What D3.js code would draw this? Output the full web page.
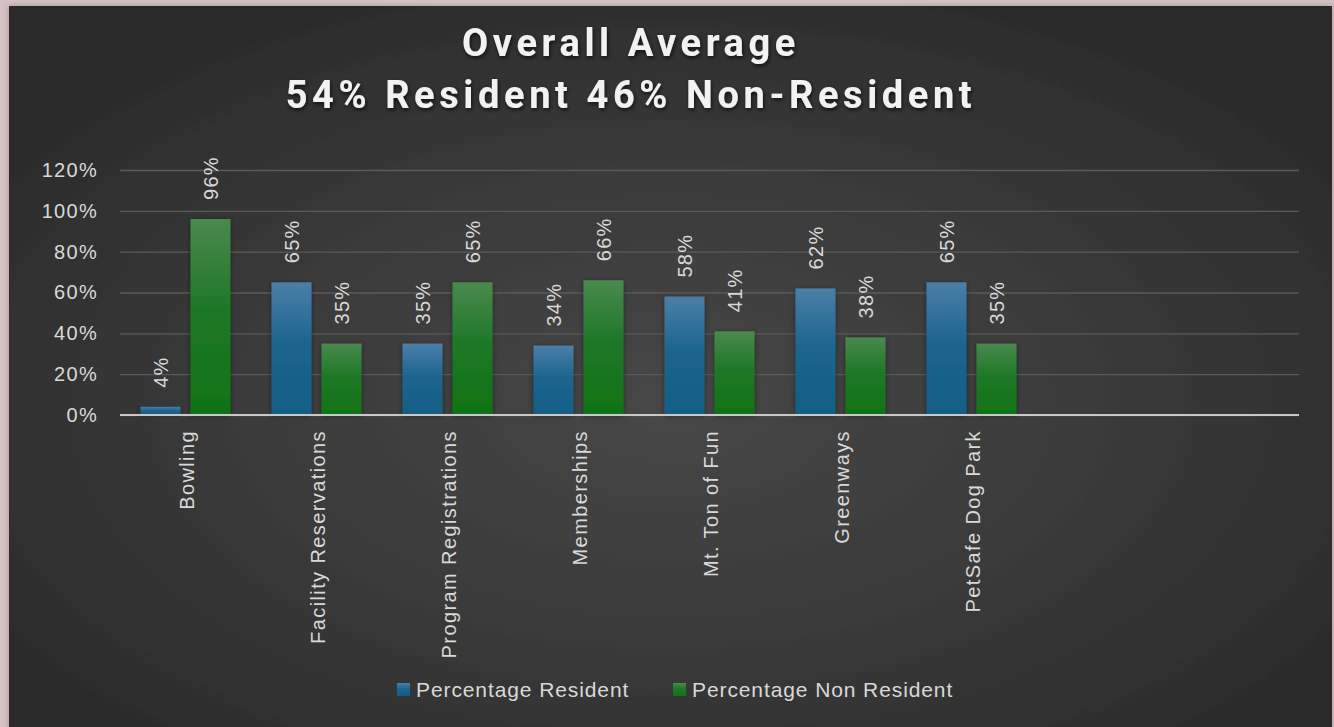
<!DOCTYPE html>
<html><head><meta charset="utf-8">
<script src="https://cdn.jsdelivr.net/npm/d3@7"></script>
<style>
html,body{margin:0;padding:0;background:#d6c3c6;}
svg{display:block;}
</style></head>
<body>
<svg id="chart" width="1334" height="727"></svg>
<script>
const categories = ["Bowling","Facility Reservations","Program Registrations","Memberships","Mt. Ton of Fun","Greenways","PetSafe Dog Park"];
const emptySlots = ["_empty1","_empty2"];
const seriesNames = ["Percentage Resident","Percentage Non Resident"];
const residentValues = [4,65,35,34,58,62,65];
const nonResidentValues = [96,35,65,66,41,38,35];
const yTicks = [0,20,40,60,80,100,120];
const titleLines = ["Overall Average","54% Resident 46% Non-Resident"];

const W = 1334, H = 727;
const FONT = "'Liberation Sans', Arial, sans-serif";
const svg = d3.select("#chart");
const defs = svg.append("defs");

// background gradient
const bg = defs.append("radialGradient").attr("id","bgGrad")
  .attr("cx","50%").attr("cy","55%").attr("r","65%");
bg.append("stop").attr("offset","0%").attr("stop-color","#474747");
bg.append("stop").attr("offset","50%").attr("stop-color","#3a3a3a");
bg.append("stop").attr("offset","100%").attr("stop-color","#292929");

const frameShadow = defs.append("filter").attr("id","frameShadow").attr("x","-5%").attr("y","-5%").attr("width","110%").attr("height","110%");
frameShadow.append("feDropShadow").attr("dx",0).attr("dy",0).attr("stdDeviation",3).attr("flood-color","#7a5a60").attr("flood-opacity",0.5);

const blueGrad = defs.append("linearGradient").attr("id","blueGrad").attr("x1",0).attr("y1",0).attr("x2",0).attr("y2",1);
blueGrad.append("stop").attr("offset","0%").attr("stop-color","#4a7fa8");
blueGrad.append("stop").attr("offset","45%").attr("stop-color","#1d658f");
blueGrad.append("stop").attr("offset","100%").attr("stop-color","#115d85");
const greenGrad = defs.append("linearGradient").attr("id","greenGrad").attr("x1",0).attr("y1",0).attr("x2",0).attr("y2",1);
greenGrad.append("stop").attr("offset","0%").attr("stop-color","#4a894e");
greenGrad.append("stop").attr("offset","45%").attr("stop-color","#1f7828");
greenGrad.append("stop").attr("offset","100%").attr("stop-color","#0f7313");

const barShadow = defs.append("filter").attr("id","barShadow").attr("x","-30%").attr("y","-10%").attr("width","160%").attr("height","130%");
barShadow.append("feDropShadow").attr("dx",0).attr("dy",1).attr("stdDeviation",2.5).attr("flood-color","#000").attr("flood-opacity",0.45);

const textShadow = defs.append("filter").attr("id","textShadow").attr("x","-10%").attr("y","-30%").attr("width","120%").attr("height","160%");
textShadow.append("feDropShadow").attr("dx",1).attr("dy",2).attr("stdDeviation",2).attr("flood-color","#000").attr("flood-opacity",0.7);

// frame
svg.append("rect").attr("x",0).attr("y",0).attr("width",W).attr("height",H).attr("fill","#d6c3c6");
svg.append("rect").attr("x",9).attr("y",6).attr("width",1323).attr("height",H).attr("fill","url(#bgGrad)").attr("filter","url(#frameShadow)");

// scales
const plotLeft = 120, plotRight = 1299, plotTop = 170, plotBottom = 415;
const x0 = d3.scaleBand().domain(categories.concat(emptySlots)).range([plotLeft, plotRight]).padding(0);
const x1 = d3.scaleBand().domain(seriesNames).range([0, x0.bandwidth()]).paddingInner(0.2).paddingOuter(0.41);
const y = d3.scaleLinear().domain([0,120]).range([plotBottom, plotTop]);
const color = d3.scaleOrdinal().domain(seriesNames).range(["url(#blueGrad)","url(#greenGrad)"]);

// gridlines + y labels
const yAxis = d3.axisLeft(y).tickValues(yTicks).tickFormat(d => d + "%").tickSize(-(plotRight-plotLeft)).tickPadding(22);
const gy = svg.append("g").attr("transform",`translate(${plotLeft},0)`).call(yAxis);
gy.select(".domain").remove();
gy.selectAll(".tick line").attr("stroke","#5a5a5a").attr("stroke-width",1.3);
gy.selectAll(".tick text").attr("fill","#d9d9d9").attr("font-family",FONT).attr("font-size",20).style("letter-spacing","1.3px");

// data rows
const rows = categories.map((c,i) => ({cat:c, vals:[
  {s:seriesNames[0], v:residentValues[i]},
  {s:seriesNames[1], v:nonResidentValues[i]}]}));

const groups = svg.append("g").selectAll("g").data(rows).join("g")
  .attr("transform", d => `translate(${x0(d.cat)},0)`);
groups.selectAll("rect").data(d => d.vals).join("rect")
  .attr("x", d => x1(d.s)).attr("width", x1.bandwidth())
  .attr("y", d => y(d.v)).attr("height", d => y(0) - y(d.v))
  .attr("fill", d => color(d.s)).attr("filter","url(#barShadow)");

// value labels
groups.selectAll("text.val").data(d => d.vals).join("text").attr("class","val")
  .attr("transform", d => `translate(${x1(d.s) + x1.bandwidth()/2 + 7},${y(d.v) - 19}) rotate(-90)`)
  .attr("text-anchor","start")
  .attr("fill","#d9d9d9").attr("font-family",FONT).attr("font-size",20)
  .style("letter-spacing","1.3px")
  .text(d => d.v + "%");

// baseline
svg.append("line").attr("x1",plotLeft).attr("x2",plotRight).attr("y1",y(0)).attr("y2",y(0))
  .attr("stroke","#c8c8c8").attr("stroke-width",2.2);

// category axis
const xAxis = d3.axisBottom(x0).tickSize(0).tickFormat(d => emptySlots.includes(d) ? "" : d);
const gx = svg.append("g").attr("transform",`translate(0,${plotBottom})`).call(xAxis);
gx.select(".domain").remove();
gx.selectAll(".tick text")
  .attr("transform","translate(8,15) rotate(-90)")
  .attr("text-anchor","end").attr("dy",0).attr("y",0).attr("x",0)
  .attr("fill","#d9d9d9").attr("font-family",FONT).attr("font-size",20)
  .style("letter-spacing","1.4px");

// title
const title = svg.append("g").attr("filter","url(#textShadow)");
title.selectAll("text").data(titleLines).join("text")
  .attr("x", 631).attr("y", (d,i) => 56 + i*52)
  .attr("text-anchor","middle")
  .attr("fill","#f2f2f2").attr("font-family","Roboto, 'Open Sans', sans-serif").attr("font-weight",700)
  .attr("font-size",38).style("letter-spacing","4.6px")
  .text(d => d);

// legend
const legendItems = [{name:seriesNames[0], x:397},{name:seriesNames[1], x:673}];
const lg = svg.append("g").selectAll("g").data(legendItems).join("g")
  .attr("transform", d => `translate(${d.x},690)`);
lg.append("rect").attr("x",0).attr("y",-7).attr("width",13).attr("height",13)
  .attr("fill", d => color(d.name));
lg.append("text").attr("x",19).attr("y",7)
  .attr("fill","#d9d9d9").attr("font-family",FONT).attr("font-size",21)
  .style("letter-spacing","0.9px")
  .text(d => d.name);
</script>
</body></html>
